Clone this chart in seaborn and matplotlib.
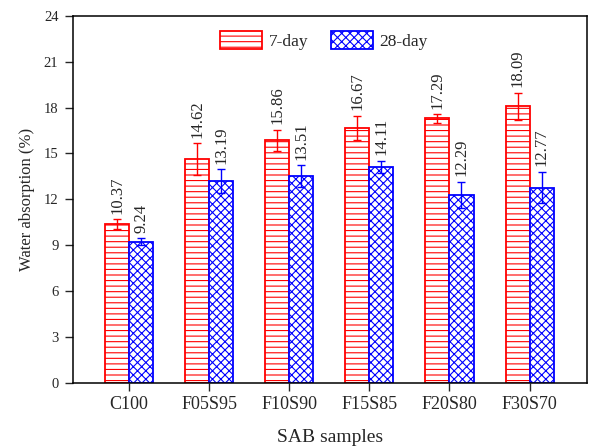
import matplotlib
matplotlib.use("Agg")
import matplotlib.pyplot as plt
import seaborn as sns
import pandas as pd
import numpy as np
from matplotlib.patches import Patch

samples = ["C100", "F05S95", "F10S90", "F15S85", "F20S80", "F30S70"]
day7 = [10.37, 14.62, 15.86, 16.67, 17.29, 18.09]
day28 = [9.24, 13.19, 13.51, 14.11, 12.29, 12.77]
err7 = [0.33, 1.05, 0.70, 0.80, 0.28, 0.89]
err28 = [0.24, 0.80, 0.72, 0.41, 0.87, 1.03]
series = ["7-day", "28-day"]
colors = {"7-day": "#ff0000", "28-day": "#0000ff"}
hatches = {"7-day": "---", "28-day": "xxxx"}

sns.set_style("white")
plt.rcParams['font.family'] = ['Liberation Serif', 'DejaVu Serif']
plt.rcParams['hatch.linewidth'] = 0.8

df = pd.DataFrame({
    "sample": samples * 2,
    "value": day7 + day28,
    "err": err7 + err28,
    "age": ["7-day"] * len(samples) + ["28-day"] * len(samples),
})

fig = plt.figure(figsize=(5.89, 4.48), dpi=100)
ax = fig.add_axes([0.124, 0.145, 0.873, 0.82])

sns.barplot(data=df, x="sample", y="value", hue="age", hue_order=series,
            order=samples, width=0.6, gap=0, errorbar=None, ax=ax,
            palette=colors, legend=False)

bars = [p for p in ax.patches]
for i, s in enumerate(series):
    sub = df[df["age"] == s].reset_index(drop=True)
    group = bars[i * len(samples):(i + 1) * len(samples)]
    xs, ys, es = [], [], []
    for bar, (_, row) in zip(group, sub.iterrows()):
        bar.set_facecolor("white")
        bar.set_edgecolor(colors[s])
        bar.set_hatch(hatches[s])
        bar.set_linewidth(1.3)
        xc = bar.get_x() + bar.get_width() / 2
        xs.append(xc); ys.append(row["value"]); es.append(row["err"])
        ax.text(xc, row["value"] + row["err"] + 0.35, f"{row['value']:.2f}",
                rotation=90, ha="center", va="bottom", fontsize=12)
    ax.errorbar(xs, ys, yerr=es, fmt="none", ecolor=colors[s],
                elinewidth=1.0, capsize=2.8, capthick=1.0)

ax.set_ylim(0, 24)
ax.set_yticks(np.arange(0, 25, 3))
ax.set_xlim(-0.7, 5.72)
ax.set_xlabel("SAB samples", fontsize=14, labelpad=11)
ax.set_ylabel("Water absorption (%)", fontsize=12, labelpad=6)
ax.tick_params(axis="both", direction="out", length=5.5, width=1,
               left=True, bottom=True, top=False, right=False)
ax.tick_params(axis="y", labelsize=10.5, pad=5)
ax.tick_params(axis="x", labelsize=13, pad=4)
for sp in ax.spines.values():
    sp.set_visible(True)
    sp.set_color("black")
    sp.set_linewidth(1.1)

handles = [Patch(facecolor="white", edgecolor=colors[s], hatch=hatches[s],
                 linewidth=1.3, label=s) for s in series]
ax.legend(handles=handles, loc="upper center", ncol=2, frameon=False,
          fontsize=12.5, handlelength=2.4, handleheight=1.15,
          bbox_to_anchor=(0.488, 1.0), columnspacing=1.3, handletextpad=0.4)

fig.savefig("out.png", dpi=100)
